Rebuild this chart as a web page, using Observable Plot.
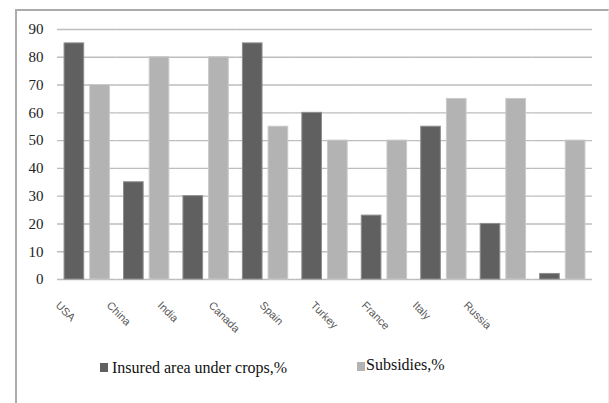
<!DOCTYPE html>
<html>
<head>
<meta charset="utf-8">
<script src="https://cdn.jsdelivr.net/npm/d3@7"></script>
<script src="https://cdn.jsdelivr.net/npm/@observablehq/plot@0.6"></script>
<style>
  html, body { margin: 0; padding: 0; background: #fff; }
  #chart { position: relative; width: 609px; height: 403px; overflow: hidden; }
  #chart svg { position: absolute; left: 0; top: 0; background: transparent; }
  .frame { position: absolute; left: 15px; top: 9px; width: 591px; height: 400px;
           border-top: 2px solid #ababab; border-left: 2px solid #ababab; border-right: 1px solid #ececec; }
  .legend-text { position: absolute; font-size: 16px; line-height: 16px; color: #111; white-space: nowrap; }
  .swatch { position: absolute; width: 8px; height: 9px; }
</style>
</head>
<body>
<div id="chart"><div class="frame"></div></div>
<script>
// Crop insurance by country
const countries = ["USA", "China", "India", "Canada", "Spain", "Turkey", "France", "Italy", "Russia"];
const insuredArea = [85, 35, 30, 85, 60, 23, 55, 20, 2];
const subsidies = [70, 80, 80, 55, 50, 50, 65, 65, 50];
const seriesNames = ["Insured area under crops,%", "Subsidies,%"];
const seriesFill = ["#606060", "#b3b3b3"];
const seriesEdge = ["#8e8e8e", "#c9c9c9"];
const yTicks = [0, 10, 20, 30, 40, 50, 60, 70, 80, 90];
const serifFont = '"Liberation Serif"';

const rows = countries.flatMap((country, i) => [
  {country, series: seriesNames[0], value: insuredArea[i]},
  {country, series: seriesNames[1], value: subsidies[i]}
]);

const chart = document.getElementById("chart");

// Grouped bars, one facet per country
const bars = Plot.plot({
  width: 609,
  height: 403,
  marginLeft: 57,
  marginRight: 17,
  marginTop: 29,
  marginBottom: 124,
  fx: {domain: countries, padding: 0, axis: null, round: false},
  x: {domain: seriesNames, paddingInner: 0.235, paddingOuter: 0.275, axis: null, round: false},
  y: {domain: [0, 90], ticks: yTicks, tickSize: 0, tickPadding: 14, label: null},
  color: {domain: seriesNames, range: seriesFill},
  marks: [
    Plot.ruleY(yTicks, {stroke: "#bdbdbd", strokeWidth: 1.4}),
    Plot.barY(rows, {
      fx: "country",
      x: "series",
      y: "value",
      fill: "series",
      stroke: d => seriesEdge[seriesNames.indexOf(d.series)],
      strokeWidth: 1
    })
  ]
});
bars.style.fontFamily = serifFont;
bars.style.fontSize = "15px";
bars.style.color = "#222";
bars.querySelectorAll("text").forEach(t => { t.style.fontFamily = serifFont; });
chart.appendChild(bars);

// Slanted category labels under the groups
const labels = Plot.plot({
  width: 609,
  height: 403,
  marginLeft: 0,
  marginRight: 0,
  marginTop: 300,
  marginBottom: 0,
  x: {type: "point", domain: countries, range: [57, 471], padding: 0, axis: null},
  marks: [
    Plot.text(countries, {
      x: d => d,
      frameAnchor: "top",
      rotate: 45,
      textAnchor: "start",
      fill: "#5a5a5a",
      fontSize: 11,
      fontFamily: "Liberation Sans, sans-serif"
    })
  ]
});
chart.appendChild(labels);

// Legend
const legendItems = [
  {swatch: [100, 363], text: [112, 360]},
  {swatch: [357, 362], text: [366, 357]}
];
seriesNames.forEach((name, i) => {
  const sw = document.createElement("div");
  sw.className = "swatch";
  sw.style.left = legendItems[i].swatch[0] + "px";
  sw.style.top = legendItems[i].swatch[1] + "px";
  sw.style.background = seriesFill[i];
  chart.appendChild(sw);
  const tx = document.createElement("div");
  tx.className = "legend-text";
  tx.style.fontFamily = serifFont;
  tx.style.left = legendItems[i].text[0] + "px";
  tx.style.top = legendItems[i].text[1] + "px";
  tx.textContent = name;
  chart.appendChild(tx);
});
</script>
</body>
</html>
